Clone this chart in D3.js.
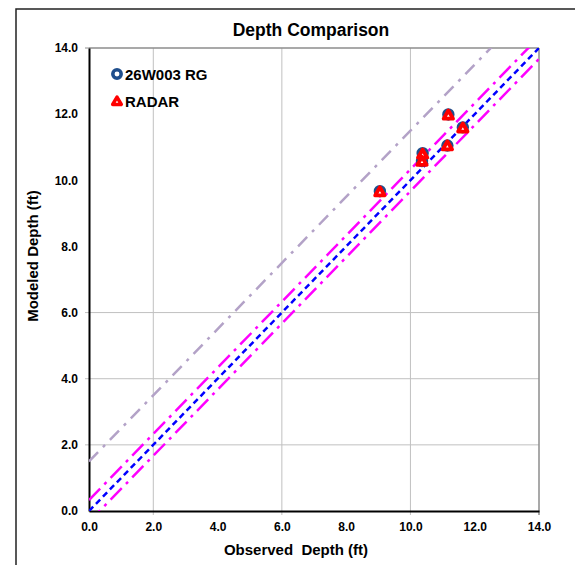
<!DOCTYPE html>
<html>
<head>
<meta charset="utf-8">
<script src="https://cdn.jsdelivr.net/npm/d3@7"></script>
<style>
  html, body { margin: 0; padding: 0; background: #fff; }
  svg { display: block; font-family: "Liberation Sans", Arial, sans-serif; }
</style>
</head>
<body>
<svg id="chart" width="575" height="565"></svg>
<script>
// ---- data ----
const rgObserved    = [9.05, 10.38, 10.36, 11.18, 11.15, 11.63];
const rgModeled     = [9.67, 10.82, 10.58, 11.99, 11.05, 11.60];
const radarObserved = [9.05, 10.38, 10.36, 11.18, 11.15, 11.63];
const radarModeled  = [9.64, 10.78, 10.56, 11.96, 11.03, 11.57];
const tickValues    = [0, 2, 4, 6, 8, 10, 12, 14];
const xGridValues   = [2, 6, 10];
const yGridValues   = [2, 4, 6];
const seriesNames   = ["26W003 RG", "RADAR"];
const lineX         = [0, 14];
const refOffsets    = { oneToOne: 0, upperBand: 0.33, lowerBand: -0.33, upperLimit: 1.5 };

// ---- layout ----
const svg = d3.select("#chart");
const pLeft = 89, pRight = 539, pTop = 48, pBottom = 511;
const x = d3.scaleLinear().domain([0, 14]).range([pLeft, pRight]);
const y = d3.scaleLinear().domain([0, 14]).range([pBottom, pTop]);

// outer frame
svg.append("rect").attr("x", 16).attr("y", 9).attr("width", 620).attr("height", 620)
  .attr("fill", "none").attr("stroke", "#222").attr("stroke-width", 1.5);

// clip
svg.append("clipPath").attr("id", "plotClip").append("rect")
  .attr("x", pLeft).attr("y", pTop).attr("width", pRight - pLeft).attr("height", pBottom - pTop);

// gridlines
const grid = svg.append("g");
xGridValues.forEach(v => {
  grid.append("line").attr("x1", x(v)).attr("x2", x(v)).attr("y1", pTop).attr("y2", pBottom + 4)
    .attr("stroke", "#c0c0c0").attr("stroke-width", 1);
});
yGridValues.forEach(v => {
  grid.append("line").attr("x1", pLeft - 4).attr("x2", pRight).attr("y1", y(v)).attr("y2", y(v))
    .attr("stroke", "#c0c0c0").attr("stroke-width", 1);
});

// plot border top/right
svg.append("line").attr("x1", pLeft).attr("x2", pRight).attr("y1", pTop).attr("y2", pTop)
  .attr("stroke", "#8c8c8c").attr("stroke-width", 1.5);
svg.append("line").attr("x1", pRight).attr("x2", pRight).attr("y1", pTop).attr("y2", pBottom + 4)
  .attr("stroke", "#8c8c8c").attr("stroke-width", 1.5);
svg.append("line").attr("x1", pLeft - 4).attr("x2", pLeft).attr("y1", pTop).attr("y2", pTop)
  .attr("stroke", "#8c8c8c").attr("stroke-width", 1);

// axes (D3 axes, styled)
const xAxis = d3.axisBottom(x).tickValues(tickValues).tickFormat(d3.format(".1f")).tickSize(0).tickPadding(11);
const yAxis = d3.axisLeft(y).tickValues(tickValues).tickFormat(d3.format(".1f")).tickSize(0).tickPadding(11);
const gx = svg.append("g").attr("transform", `translate(0,${pBottom})`).call(xAxis);
const gy = svg.append("g").attr("transform", `translate(${pLeft},0)`).call(yAxis);
[gx, gy].forEach(g => {
  g.select(".domain").attr("stroke", "#000").attr("stroke-width", 2);
  g.selectAll("text").attr("font-size", 12).attr("font-weight", "bold").attr("fill", "#000")
    .attr("font-family", "Liberation Sans, Arial, sans-serif");
});

// reference lines
const lines = svg.append("g").attr("clip-path", "url(#plotClip)");
function refLine(off, color, dash, width) {
  const gen = d3.line().x(d => x(d)).y(d => y(d + off));
  lines.append("path").datum(lineX).attr("d", gen).attr("fill", "none")
    .attr("stroke", color).attr("stroke-width", width).attr("stroke-dasharray", dash);
}
refLine(refOffsets.upperLimit, "#b3a2c7", "13,7,3,7", 2.5);
refLine(refOffsets.upperBand, "#ff00ff", "16,6,3,6", 2.5);
refLine(refOffsets.lowerBand, "#ff00ff", "16,6,3,6", 2.5);
refLine(refOffsets.oneToOne, "#0000ff", "6,4", 2.5);

// markers
const tri = d3.symbol().type(d3.symbolTriangle).size(38);
const circR = 4.4, circW = 3.6;
const pts = svg.append("g");
rgObserved.forEach((ox, i) => {
  pts.append("circle").attr("cx", x(ox)).attr("cy", y(rgModeled[i])).attr("r", circR)
    .attr("fill", "#fff").attr("stroke", "#1f4e8c").attr("stroke-width", circW);
});
radarObserved.forEach((ox, i) => {
  pts.append("path").attr("d", tri)
    .attr("transform", `translate(${x(ox)},${y(radarModeled[i]) + 0.5})`)
    .attr("fill", "#fff").attr("stroke", "#ff0000").attr("stroke-width", 3.8).attr("stroke-linejoin", "round");
});

// legend
const lg = svg.append("g");
lg.append("circle").attr("cx", 117).attr("cy", 74).attr("r", 4.2)
  .attr("fill", "#fff").attr("stroke", "#1f4e8c").attr("stroke-width", 3.5);
lg.append("text").attr("x", 125).attr("y", 79.5).text(seriesNames[0])
  .attr("font-size", 15).attr("font-weight", "bold");
lg.append("path").attr("d", d3.symbol().type(d3.symbolTriangle).size(32)).attr("transform", "translate(117,102)")
  .attr("fill", "#fff").attr("stroke", "#ff0000").attr("stroke-width", 3.5).attr("stroke-linejoin", "round");
lg.append("text").attr("x", 125).attr("y", 107).text(seriesNames[1])
  .attr("font-size", 15).attr("font-weight", "bold");

// title & axis titles
svg.append("text").attr("x", 311).attr("y", 36).attr("text-anchor", "middle")
  .attr("font-size", 17.5).attr("font-weight", "bold").text("Depth Comparison");
svg.append("text").attr("x", 296).attr("y", 555).attr("text-anchor", "middle")
  .attr("font-size", 15).attr("font-weight", "bold")
  .style("white-space", "pre").text("Observed  Depth (ft)");
svg.append("text").attr("transform", "translate(37.5,256) rotate(-90)").attr("text-anchor", "middle")
  .attr("font-size", 15).attr("font-weight", "bold").text("Modeled Depth (ft)");
</script>
</body>
</html>
